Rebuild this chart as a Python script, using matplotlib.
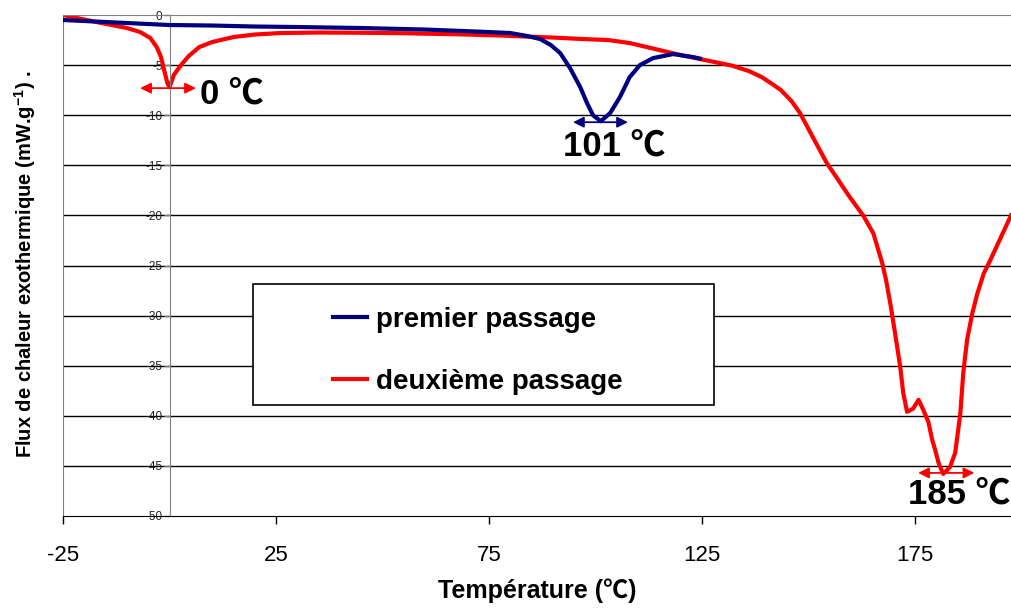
import matplotlib
matplotlib.use("Agg")
import matplotlib.pyplot as plt
from matplotlib.patches import Rectangle

plt.rcParams['font.family'] = ['Liberation Sans', 'Noto Sans CJK JP', 'DejaVu Sans']
plt.rcParams['axes.unicode_minus'] = False
plt.rcParams['mathtext.fontset'] = 'custom'
plt.rcParams['mathtext.rm'] = 'Liberation Sans:bold'
plt.rcParams['mathtext.default'] = 'rm'

# premier passage (bleu)
t1 = [-25, -15, -5, 0, 10, 20, 30, 45, 60, 72, 80, 84, 87, 89.5, 91.7, 94, 96.4,
      98, 99.4, 101.2, 103.4, 105.7, 108, 110.4, 113.5, 118.2, 122.9, 124.5]
flux1 = [-0.5, -0.7, -0.9, -1.0, -1.05, -1.15, -1.2, -1.3, -1.45, -1.65, -1.8, -2.1, -2.4,
         -3.0, -3.8, -5.3, -7.2, -8.8, -10.0, -10.6, -9.8, -8.2, -6.2, -5.0, -4.3, -3.9, -4.2, -4.35]

# deuxième passage (rouge)
t2 = [-25, -20, -16, -10, -6.9, -4.5, -3, -2, -1.2, -0.5, 0, 1, 2.5, 4.5, 7, 10, 15, 20,
      26, 35, 45, 55, 68, 78, 84, 90, 97, 103, 108, 112, 116, 120, 124, 128, 132, 136,
      139, 141.5, 143.5, 146, 148, 151, 154.3, 156.7, 159.7, 162.8, 165.2, 167.3, 168.2,
      169.3, 170.3, 171.5, 172.2, 173.1, 174.5, 175.8, 176.9, 178.1, 179, 179.7, 180.5,
      181.6, 183.2, 184.4, 185.6, 186.3, 187.2, 188.4, 189.6, 191.1, 192.6, 195, 197.5]
flux2 = [0, -0.45, -0.8, -1.3, -1.7, -2.3, -3.2, -4.2, -5.6, -6.8, -7.2, -6.0, -5.1, -4.1,
         -3.2, -2.7, -2.2, -1.95, -1.8, -1.75, -1.77, -1.82, -1.93, -2.05, -2.16, -2.25,
         -2.4, -2.5, -2.8, -3.2, -3.6, -4.0, -4.35, -4.7, -5.05, -5.6, -6.2, -6.9, -7.5,
         -8.6, -9.8, -12.2, -14.8, -16.3, -18.2, -20.0, -21.8, -24.8, -26.5, -29.1, -31.8,
         -35.1, -37.7, -39.6, -39.3, -38.4, -39.4, -40.6, -42.4, -43.4, -44.7, -45.8, -45.1,
         -43.7, -39.8, -35.7, -32.4, -29.8, -27.8, -25.8, -24.5, -22.3, -20.0]

labels = ['premier passage', 'deuxième passage']
colors = ['#000080', '#FF0000']

# pics annotés : (x début flèche, x fin flèche, y flèche, x texte, y texte, texte, couleur)
peaks = [(-6.9, 6.2, -7.3, 7.2, -7.9, '0 ℃', '#FF0000'),
         (94.7, 107.6, -10.7, 92.4, -13.1, '101 ℃', '#000080'),
         (175.7, 188.9, -45.7, 173.4, -47.8, '185 ℃', '#FF0000')]

fig = plt.figure(figsize=(10.11, 6.08), dpi=100)
ax = fig.add_axes([63 / 1011, 92 / 608, 948 / 1011, 501 / 608])

ax.plot(t1, flux1, color=colors[0], lw=3, label=labels[0], zorder=3)
ax.plot(t2, flux2, color=colors[1], lw=3, label=labels[1], zorder=2)

ax.set_xlim(-25, 197.5)
ax.set_ylim(-50, 0)
ax.set_xticks([-25, 25, 75, 125, 175])
ax.set_yticks(range(-50, 1, 5))

# grille horizontale
for yv in range(-45, 0, 5):
    ax.axhline(yv, color='black', lw=1.0, zorder=1)
ax.axvline(-25, color='#808080', lw=1.5, zorder=1)

ax.spines['left'].set_position(('data', 0))
ax.spines['left'].set_color('#808080')
ax.spines['top'].set_color('#808080')
ax.spines['right'].set_visible(False)
ax.spines['bottom'].set_color('black')
ax.tick_params(axis='y', direction='out', length=4, width=1, color='#808080',
               labelsize=8.5, labelcolor='#222222', pad=1)
ax.tick_params(axis='x', direction='out', length=6, width=1, labelsize=16, pad=15)

for x0, x1, ya, xt, yt, txt, c in peaks:
    ax.annotate('', xy=(x1, ya), xytext=(x0, ya),
                arrowprops=dict(arrowstyle='<|-|>', color=c, lw=1.3, mutation_scale=16,
                                shrinkA=0, shrinkB=0), zorder=4)
    ax.text(xt, yt, txt, fontsize=25, fontweight='bold', ha='left', va='center', zorder=5)

ax.set_xlabel('Température (℃)', fontsize=18, fontweight='bold', labelpad=9)
fig.text(25 / 1011, 1 - 264 / 608, r'Flux de chaleur exothermique (mW.g$^{-1}$) .',
         rotation=90, ha='center', va='center', fontsize=14.5, fontweight='bold')

# cadre de la légende
ax.add_patch(Rectangle((0.2004, 0.2216), 0.4863, 0.2415, transform=ax.transAxes,
                       facecolor='white', edgecolor='black', lw=1.2, zorder=4))
leg = ax.legend(loc='upper left', bbox_to_anchor=(0.2845, 0.418), frameon=False,
                prop={'weight': 'bold', 'size': 20}, handlelength=1.25,
                handletextpad=0.3, labelspacing=1.3, borderpad=0, borderaxespad=0)
leg.set_zorder(5)

fig.savefig('out.png', dpi=100)
